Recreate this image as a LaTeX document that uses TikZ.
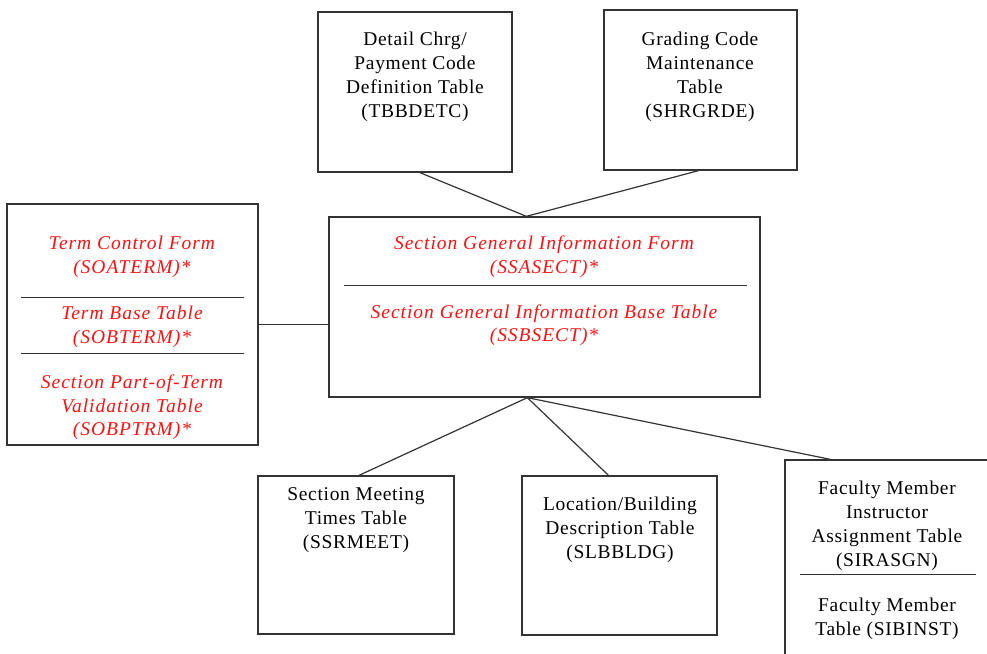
\documentclass[tikz,border=0pt]{standalone}
\usepackage{fontspec}
\setmainfont[LetterSpace=3.5]{Liberation Serif}
\newfontfamily\formfont[LetterSpace=5]{Liberation Serif}
\usetikzlibrary{calc}
\definecolor{edge}{HTML}{333333}
\definecolor{formred}{HTML}{FF1010}
\begin{document}
\begin{tikzpicture}[x=1pt,y=-1pt,
  box/.style={draw=edge, line width=1.3pt, rectangle, inner sep=0pt},
  label/.style={align=center, font=\fontsize{19.5}{24}\selectfont, inner sep=0pt},
  redlabel/.style={align=center, font=\fontsize{19.5}{23.5}\selectfont\formfont\itshape, text=formred, inner sep=0pt},
  link/.style={draw=edge, line width=1.2pt},
  rule/.style={draw=edge, line width=1.3pt}]
\clip (0,0) rectangle (987,653);

% table / form boxes
\node[box, minimum width=194pt, minimum height=160pt] (detail)  at (415,92) {};
\node[box, minimum width=193pt, minimum height=160pt] (grading) at (700.5,90) {};
\node[box, minimum width=431pt, minimum height=180pt] (center)  at (544.5,307) {};
\node[box, minimum width=251pt, minimum height=241pt] (left)    at (132.5,324.5) {};
\node[box, minimum width=196pt, minimum height=158pt] (meet)    at (356,555) {};
\node[box, minimum width=195pt, minimum height=159pt] (loc)     at (619.5,555.5) {};
\node[box, minimum width=205pt, minimum height=220pt] (fac)     at (887.5,570) {};

% dividers inside the stacked boxes
\draw[rule] ($(left.north west)+(15,94)$) -- ($(left.north east)+(-15,94)$);
\draw[rule] ($(left.north west)+(15,150)$) -- ($(left.north east)+(-15,150)$);
\draw[rule] ($(center.north west)+(16,69)$) -- ($(center.north east)+(-14,69)$);
\draw[rule] ($(fac.north west)+(16,115)$) -- ($(fac.north east)+(-15,115)$);

% texts
\node[label] (detailtxt) at (415,77) {Detail Chrg/\\Payment Code\\Definition Table\\(TBBDETC)};
\node[label] (gradingtxt) at (700,77) {Grading Code\\Maintenance\\Table\\(SHRGRDE)};
\node[redlabel] (termform) at (132,257) {Term Control Form\\(SOATERM)*};
\node[redlabel] (termbase) at (132,327) {Term Base Table\\(SOBTERM)*};
\node[redlabel] (ptrm) at (132,407.5) {Section Part-of-Term\\Validation Table\\(SOBPTRM)*};
\node[redlabel] (sectform) at (544,256.5) {Section General Information Form\\(SSASECT)*};
\node[redlabel] (sectbase) at (544,325) {Section General Information Base Table\\(SSBSECT)*};
\node[label] (meettxt) at (356,520) {Section Meeting\\Times Table\\(SSRMEET)};
\node[label] (loctxt) at (620,530) {Location/Building\\Description Table\\(SLBBLDG)};
\node[label] (factxt) at (887,525.5) {Faculty Member\\Instructor\\Assignment Table\\(SIRASGN)};
\node[label] (insttxt) at (887,619) {Faculty Member\\Table (SIBINST)};

% connectors
\coordinate (hubtop) at ($(center.north west)+(198,0)$);
\coordinate (hubbot) at ($(center.south west)+(199,0)$);
\draw[link] ($(detail.south)+(5,0)$) -- (hubtop);
\draw[link] ($(grading.south)+(-2,0)$) -- (hubtop);
\draw[link] (left.east) -- (left.east -| center.west);
\draw[link] (hubbot) -- ($(meet.north)+(3,0)$);
\draw[link] (hubbot) -- ($(loc.north)+(-11,0)$);
\draw[link] (hubbot) -- ($(fac.north west)+(46,0)$);
\end{tikzpicture}
\end{document}
